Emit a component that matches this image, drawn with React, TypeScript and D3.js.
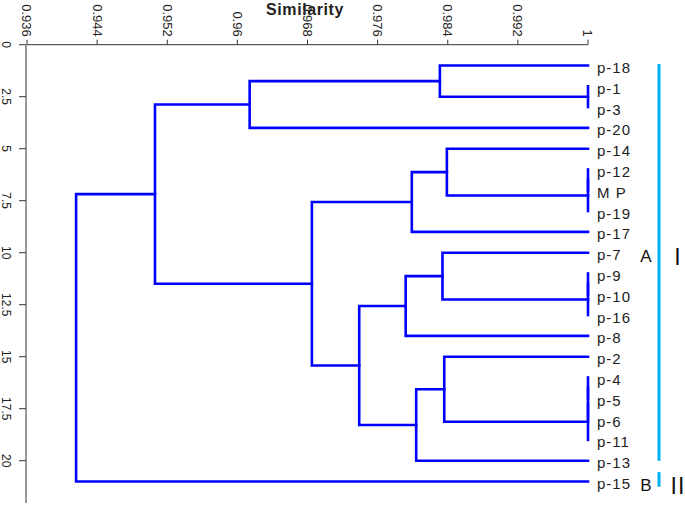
import React from "react";
import * as d3 from "d3";

// Leaves, top to bottom
const leafNames = ["p-18","p-1","p-3","p-20","p-14","p-12","MP","p-19","p-17","p-7","p-9","p-10","p-16","p-8","p-2","p-4","p-5","p-6","p-11","p-13","p-15"];

// Linkage (ids < 21 are leaves, merge k gets id 21 + k)
const mergeLeft  = [1, 5, 22, 10, 24, 15, 26, 27, 0, 29, 4, 31, 9, 33, 14, 35, 34, 32, 30, 39];
const mergeRight = [2, 6, 7, 11, 12, 16, 17, 18, 21, 3, 23, 8, 25, 13, 28, 19, 36, 37, 38, 20];
const mergeSimilarity = [1, 1, 1, 1, 1, 1, 1, 1, 0.9831, 0.9614, 0.9839, 0.9799, 0.9834, 0.9792, 0.9836, 0.9804, 0.9739, 0.9685, 0.9506, 0.9416];

// Axis ticks
const xTickValues = [0.936, 0.944, 0.952, 0.96, 0.968, 0.976, 0.984, 0.992, 1];
const yTickValues = [0, 2.5, 5, 7.5, 10, 12.5, 15, 17.5, 20];

// Cluster brackets (in leaf-position units)
const bracketNames = ["A", "B"];
const bracketRoman = ["I", "II"];
const bracketStart = [0.93, 20.55];
const bracketEnd = [20, 21.25];
const bracketLabelRow = [10, 21];

const W = 685, H = 505;
const FONT = "'Liberation Sans', Arial, sans-serif";

export default function App() {
  const x = d3.scaleLinear().domain([0.936, 1]).range([27, 588]);
  const y = d3.scaleLinear().domain([0, 22]).range([44.7, 502.3]);

  const pos: number[] = leafNames.map((_, i) => i + 1);
  const sim: number[] = leafNames.map(() => 1);
  const paths: string[] = [];
  mergeLeft.forEach((l, k) => {
    const r = mergeRight[k];
    const s = mergeSimilarity[k];
    const p = (pos[l] + pos[r]) / 2;
    pos.push(p);
    sim.push(s);
    const pth = d3.path();
    pth.moveTo(x(sim[l]), y(pos[l]));
    pth.lineTo(x(s), y(pos[l]));
    pth.lineTo(x(s), y(pos[r]));
    pth.lineTo(x(sim[r]), y(pos[r]));
    paths.push(pth.toString());
  });

  const axisColor = "#333";

  return (
    <div style={{ position: "fixed", left: 0, top: 0 }}>
      <svg width={W} height={H} style={{ display: "block", background: "#fff" }}>
        {/* title */}
        <text x={305} y={15} textAnchor="middle" fontFamily={FONT} fontWeight="bold" fontSize={16} letterSpacing={0.6} fill="#222">
          Similarity
        </text>

        {/* top axis */}
        <line x1={x(0.936)} x2={x(1)} y1={y(0)} y2={y(0)} stroke={axisColor} strokeWidth={1} />
        {xTickValues.map((v) => (
          <g key={"xt" + v} transform={`translate(${x(v)},0)`}>
            <line x1={0} x2={0} y1={y(0) - 5} y2={y(0)} stroke={axisColor} strokeWidth={1} />
            <text transform={`translate(0,${y(0) - 8}) rotate(90)`} textAnchor="end" dy="0.35em" fontFamily={FONT} fontSize={13} fill="#222">
              {String(+v.toFixed(3))}
            </text>
          </g>
        ))}

        {/* left axis */}
        <line x1={x(0.936) - 1} x2={x(0.936) - 1} y1={y(0)} y2={503} stroke={axisColor} strokeWidth={1} />
        {yTickValues.map((v) => (
          <g key={"yt" + v} transform={`translate(0,${y(v)})`}>
            <line x1={x(0.936) - 8} x2={x(0.936) - 1} y1={0} y2={0} stroke={axisColor} strokeWidth={1} />
            <text transform={`translate(6,0) rotate(90)`} textAnchor="middle" dy="0.35em" fontFamily={FONT} fontSize={12} fill="#222">
              {String(v)}
            </text>
          </g>
        ))}

        {/* dendrogram */}
        <g fill="none" stroke="#0000ff" strokeWidth={2.6} strokeLinecap="square" strokeLinejoin="miter">
          {paths.map((d, i) => (
            <path key={"p" + i} d={d} />
          ))}
        </g>

        {/* leaf labels */}
        {leafNames.map((n, i) => (
          <text key={"l" + n} x={597} y={y(i + 1) + 7.5} fontFamily={FONT} fontSize={15} letterSpacing={1} fill="#222">
            {n === "MP" ? "M P" : n}
          </text>
        ))}

        {/* brackets */}
        {bracketNames.map((b, i) => (
          <g key={"b" + b}>
            <line x1={659} x2={659} y1={y(bracketStart[i])} y2={y(bracketEnd[i])} stroke="#00b0f0" strokeWidth={3} />
            <text x={646} y={y(bracketLabelRow[i]) + 9.5} textAnchor="middle" fontFamily={FONT} fontSize={17} fill="#111">{b}</text>
            <text x={678} y={y(bracketLabelRow[i]) + 12} textAnchor="middle" fontFamily={FONT} fontSize={23} fill="#111" letterSpacing={1}>{bracketRoman[i]}</text>
          </g>
        ))}
      </svg>
    </div>
  );
}
